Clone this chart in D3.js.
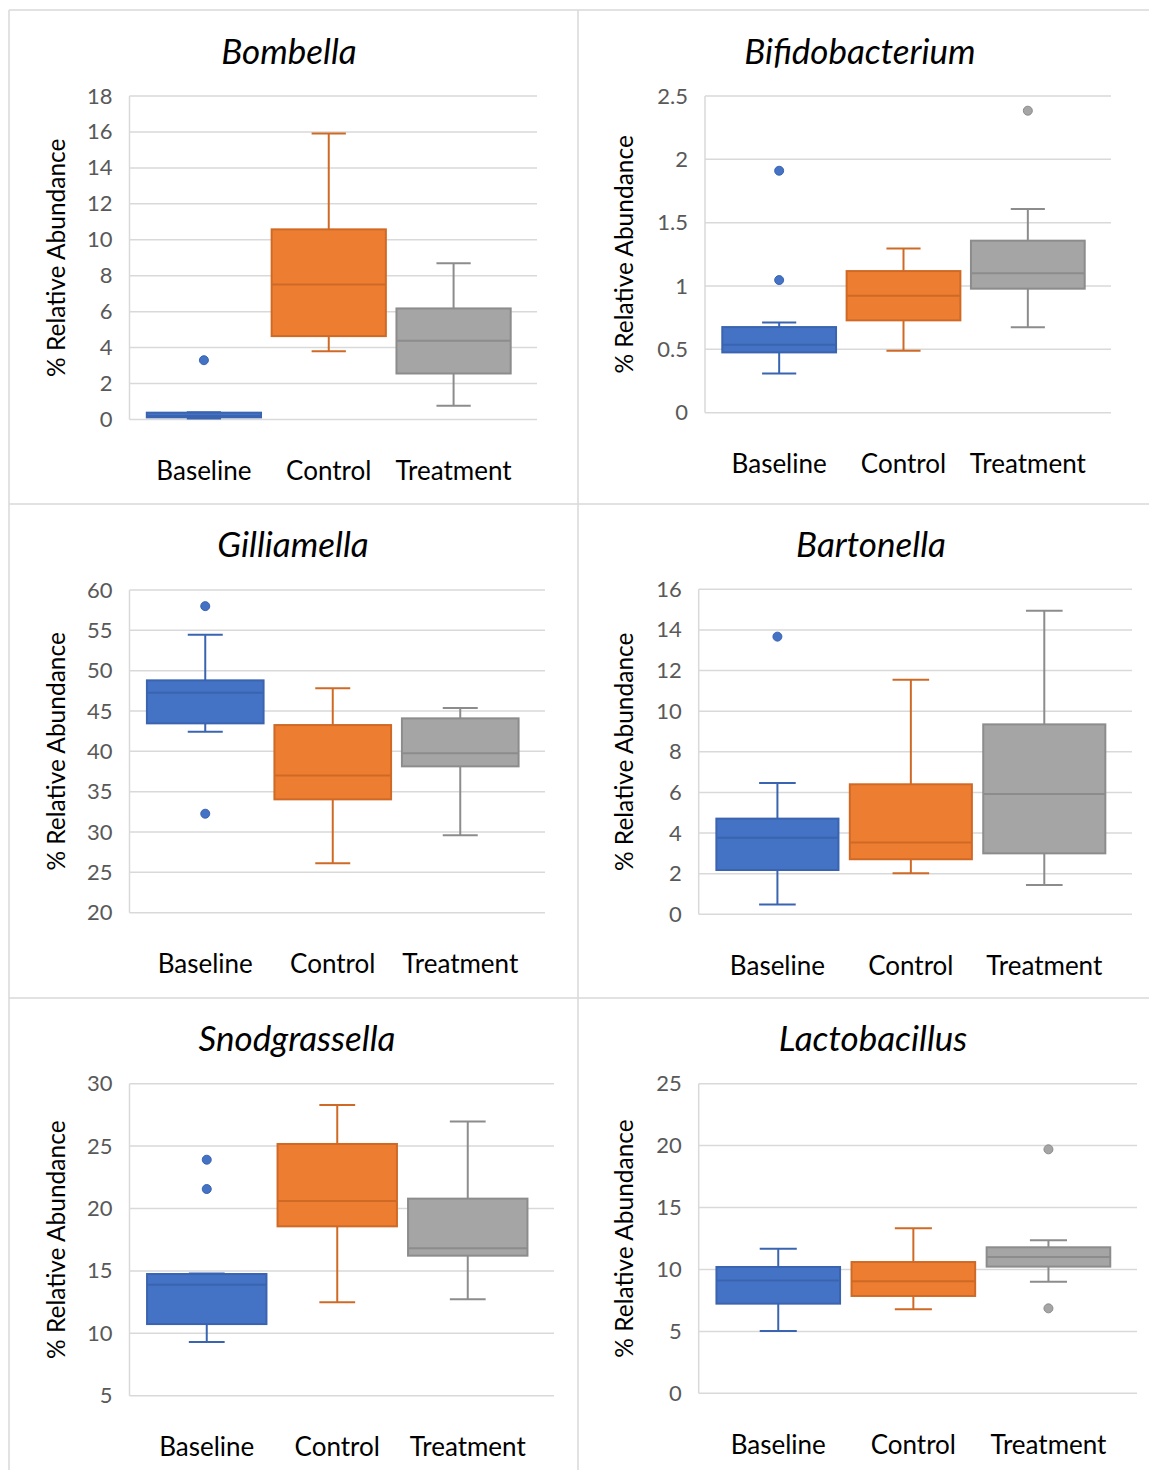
<!DOCTYPE html>
<html>
<head>
<meta charset="utf-8">
<script src="https://cdn.jsdelivr.net/npm/d3@7"></script>
<style>
  body { margin: 0; background: #fff; }
  svg { display: block; }
  text { font-family: Lato, "Open Sans", sans-serif; }
</style>
</head>
<body>
<svg id="fig" width="1149" height="1470"></svg>
<script>
// ---- data ----
const groups = ["Baseline", "Control", "Treatment"];
const genera = ["Bombella", "Bifidobacterium", "Gilliamella", "Bartonella", "Snodgrassella", "Lactobacillus"];

// five-number summaries per group: [min, q1, median, q3, max]
const bombellaStats      = [[0.05, 0.12, 0.2, 0.38, 0.4], [3.80, 4.64, 7.51, 10.58, 15.92], [0.76, 2.56, 4.38, 6.18, 8.70]];
const bifidoStats        = [[0.31, 0.476, 0.537, 0.676, 0.713], [0.489, 0.729, 0.924, 1.118, 1.297], [0.674, 0.979, 1.10, 1.358, 1.608]];
const gilliamellaStats   = [[42.44, 43.47, 47.27, 48.8, 54.46], [26.12, 34.05, 37.02, 43.26, 47.81], [29.59, 38.14, 39.75, 44.09, 45.37]];
const bartonellaStats    = [[0.48, 2.18, 3.77, 4.71, 6.47], [2.02, 2.71, 3.53, 6.40, 11.55], [1.44, 3.00, 5.92, 9.35, 14.95]];
const snodgrassellaStats = [[9.30, 10.74, 13.89, 14.75, 14.8], [12.48, 18.57, 20.60, 25.17, 28.29], [12.72, 16.22, 16.81, 20.79, 26.98]];
const lactobacillusStats = [[5.03, 7.24, 9.10, 10.2, 11.68], [6.78, 7.86, 9.04, 10.60, 13.32], [9.01, 10.23, 11.0, 11.79, 12.35]];

// points beyond the whiskers, per group
const bombellaOutliers      = [[3.30], [], []];
const bifidoOutliers        = [[1.91, 1.047], [], [2.384]];
const gilliamellaOutliers   = [[58.0, 32.27], [], []];
const bartonellaOutliers    = [[13.67], [], []];
const snodgrassellaOutliers = [[23.91, 21.56], [], []];
const lactobacillusOutliers = [[], [], [19.70, 6.86]];

// y-axis tick values
const bombellaTicks      = [0, 2, 4, 6, 8, 10, 12, 14, 16, 18];
const bifidoTicks        = [0, 0.5, 1, 1.5, 2, 2.5];
const gilliamellaTicks   = [20, 25, 30, 35, 40, 45, 50, 55, 60];
const bartonellaTicks    = [0, 2, 4, 6, 8, 10, 12, 14, 16];
const snodgrassellaTicks = [5, 10, 15, 20, 25, 30];
const lactobacillusTicks = [0, 5, 10, 15, 20, 25];

const statsList    = [bombellaStats, bifidoStats, gilliamellaStats, bartonellaStats, snodgrassellaStats, lactobacillusStats];
const outlierList  = [bombellaOutliers, bifidoOutliers, gilliamellaOutliers, bartonellaOutliers, snodgrassellaOutliers, lactobacillusOutliers];
const tickList     = [bombellaTicks, bifidoTicks, gilliamellaTicks, bartonellaTicks, snodgrassellaTicks, lactobacillusTicks];

// ---- layout (page pixels) ----
const plots = [
  { left: 129.5, right: 537,  top: 96,     bottom: 419.5,  titleX: 289, titleY: 50 },
  { left: 705,   right: 1111, top: 96,     bottom: 412.7,  titleX: 860, titleY: 50 },
  { left: 129.5, right: 545,  top: 590,    bottom: 912.7,  titleX: 293, titleY: 543 },
  { left: 698.7, right: 1132, top: 589.3,  bottom: 914.3,  titleX: 871, titleY: 543 },
  { left: 129.5, right: 554,  top: 1083.7, bottom: 1395.7, titleX: 297, titleY: 1037 },
  { left: 698.7, right: 1137, top: 1083.7, bottom: 1393.3, titleX: 873, titleY: 1037 }
];

const fills   = { Baseline: "#4472C4", Control: "#ED7D31", Treatment: "#A5A5A5" };
const strokes = { Baseline: "#3A64B0", Control: "#CF6A26", Treatment: "#8C8C8C" };
const gridColor = "#D9D9D9";
const fontStack = "Lato, 'Open Sans', sans-serif";

const svg = d3.select("#fig");

// panel frames
const frame = svg.append("g").attr("stroke", "#D9D9D9").attr("stroke-width", 1.5);
frame.append("line").attr("x1", 9).attr("x2", 1149).attr("y1", 10).attr("y2", 10);
frame.append("line").attr("x1", 9).attr("x2", 9).attr("y1", 10).attr("y2", 1470);
frame.append("line").attr("x1", 578).attr("x2", 578).attr("y1", 10).attr("y2", 1470);
frame.append("line").attr("x1", 9).attr("x2", 1149).attr("y1", 504).attr("y2", 504);
frame.append("line").attr("x1", 9).attr("x2", 1149).attr("y1", 998).attr("y2", 998);

genera.forEach((name, i) => {
  const p = plots[i];
  const ticks = tickList[i];
  const stats = statsList[i];
  const outs = outlierList[i];
  const g = svg.append("g");

  const y = d3.scaleLinear()
    .domain([ticks[0], ticks[ticks.length - 1]])
    .range([p.bottom, p.top]);
  const x = d3.scaleBand()
    .domain(groups)
    .range([p.left + 12, p.right - 21])
    .paddingInner(0.085)
    .paddingOuter(0.0425);

  // title
  g.append("text")
    .attr("x", p.titleX).attr("y", p.titleY)
    .attr("text-anchor", "middle").attr("dominant-baseline", "central")
    .attr("font-size", 35).attr("font-style", "italic").attr("fill", "#000")
    .text(name);

  // horizontal gridlines
  g.append("g").selectAll("line").data(ticks).join("line")
    .attr("x1", p.left).attr("x2", p.right)
    .attr("y1", d => y(d)).attr("y2", d => y(d))
    .attr("stroke", gridColor).attr("stroke-width", 1.5);
  // vertical axis line
  g.append("line")
    .attr("x1", p.left).attr("x2", p.left)
    .attr("y1", p.top).attr("y2", p.bottom)
    .attr("stroke", gridColor).attr("stroke-width", 1.5);

  // y-axis tick labels
  const yAxis = g.append("g")
    .attr("transform", `translate(${p.left},0)`)
    .call(d3.axisLeft(y).tickValues(ticks).tickSize(0).tickPadding(17).tickFormat(d3.format("~g")));
  yAxis.select(".domain").remove();
  yAxis.selectAll("text")
    .attr("font-size", 22).attr("fill", "#595959")
    .style("font-family", fontStack);

  // category labels
  const xAxis = g.append("g")
    .attr("transform", `translate(0,${p.bottom})`)
    .call(d3.axisBottom(x).tickSize(0).tickPadding(42));
  xAxis.select(".domain").remove();
  xAxis.selectAll("text")
    .attr("font-size", 26).attr("fill", "#000")
    .style("font-family", fontStack);

  // y-axis title
  const cy = (p.top + p.bottom) / 2;
  const tx = i % 2 === 0 ? 55 : 623;
  g.append("text")
    .attr("transform", `translate(${tx},${cy}) rotate(-90)`)
    .attr("text-anchor", "middle").attr("dominant-baseline", "central")
    .attr("font-size", 24.5).attr("fill", "#000")
    .text("% Relative Abundance");

  // boxes and whiskers
  const bw = x.bandwidth();
  const capW = bw * 0.3;
  groups.forEach((grp, k) => {
    const [mn, q1, md, q3, mx] = stats[k];
    const cx = x(grp) + bw / 2;
    const col = strokes[grp];
    const bg = g.append("g");
    // whisker stems
    bg.append("line").attr("x1", cx).attr("x2", cx).attr("y1", y(q3)).attr("y2", y(mx))
      .attr("stroke", col).attr("stroke-width", 2);
    bg.append("line").attr("x1", cx).attr("x2", cx).attr("y1", y(q1)).attr("y2", y(mn))
      .attr("stroke", col).attr("stroke-width", 2);
    // caps
    [mn, mx].forEach(v => {
      bg.append("line").attr("x1", cx - capW / 2).attr("x2", cx + capW / 2)
        .attr("y1", y(v)).attr("y2", y(v))
        .attr("stroke", col).attr("stroke-width", 2);
    });
    // box
    bg.append("rect")
      .attr("x", x(grp)).attr("width", bw)
      .attr("y", y(q3)).attr("height", Math.max(1, y(q1) - y(q3)))
      .attr("fill", fills[grp]).attr("stroke", col).attr("stroke-width", 2);
    // median
    bg.append("line").attr("x1", x(grp)).attr("x2", x(grp) + bw)
      .attr("y1", y(md)).attr("y2", y(md))
      .attr("stroke", col).attr("stroke-width", 2);
    // outliers
    bg.selectAll("circle").data(outs[k]).join("circle")
      .attr("cx", cx).attr("cy", d => y(d)).attr("r", 4.5)
      .attr("fill", fills[grp]).attr("stroke", col).attr("stroke-width", 1);
  });
});
</script>
</body>
</html>
